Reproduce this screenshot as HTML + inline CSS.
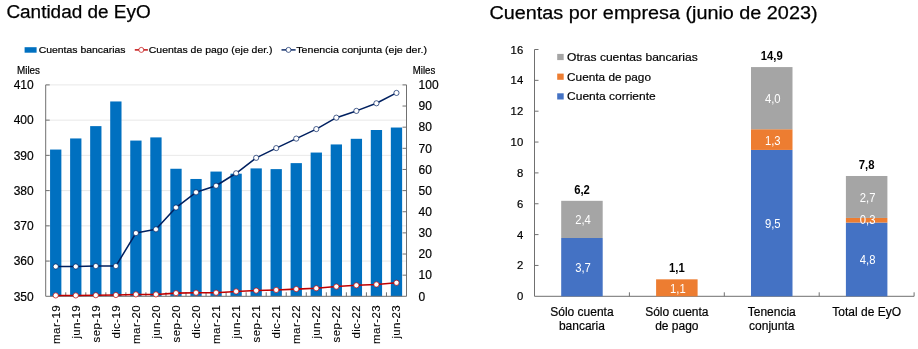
<!DOCTYPE html>
<html><head><meta charset="utf-8"><style>
html,body{margin:0;padding:0;background:#fff;}
svg{display:block;font-family:"Liberation Sans", sans-serif;will-change:transform;}
</style></head><body>
<svg width="918" height="349" viewBox="0 0 918 349">
<text x="6.40" y="18.40" font-size="18.8" text-anchor="start" fill="#000" textLength="144.3" lengthAdjust="spacingAndGlyphs" stroke="#000" stroke-width="0.25">Cantidad de EyO</text>
<line x1="45.7" y1="261.07" x2="406.5" y2="261.07" stroke="#e0e0e0" stroke-width="0.75"/>
<line x1="45.7" y1="225.83" x2="406.5" y2="225.83" stroke="#e0e0e0" stroke-width="0.75"/>
<line x1="45.7" y1="190.60" x2="406.5" y2="190.60" stroke="#e0e0e0" stroke-width="0.75"/>
<line x1="45.7" y1="155.37" x2="406.5" y2="155.37" stroke="#e0e0e0" stroke-width="0.75"/>
<line x1="45.7" y1="120.13" x2="406.5" y2="120.13" stroke="#e0e0e0" stroke-width="0.75"/>
<line x1="45.7" y1="84.90" x2="406.5" y2="84.90" stroke="#e0e0e0" stroke-width="0.75"/>
<rect x="50.07" y="149.55" width="11.3" height="146.75" fill="#0070c0"/>
<rect x="70.12" y="138.45" width="11.3" height="157.85" fill="#0070c0"/>
<rect x="90.16" y="126.12" width="11.3" height="170.18" fill="#0070c0"/>
<rect x="110.21" y="101.46" width="11.3" height="194.84" fill="#0070c0"/>
<rect x="130.25" y="140.57" width="11.3" height="155.73" fill="#0070c0"/>
<rect x="150.29" y="137.40" width="11.3" height="158.90" fill="#0070c0"/>
<rect x="170.34" y="168.76" width="11.3" height="127.54" fill="#0070c0"/>
<rect x="190.38" y="178.97" width="11.3" height="117.33" fill="#0070c0"/>
<rect x="210.43" y="171.57" width="11.3" height="124.73" fill="#0070c0"/>
<rect x="230.47" y="173.69" width="11.3" height="122.61" fill="#0070c0"/>
<rect x="250.52" y="168.40" width="11.3" height="127.90" fill="#0070c0"/>
<rect x="270.56" y="169.11" width="11.3" height="127.19" fill="#0070c0"/>
<rect x="290.61" y="163.12" width="11.3" height="133.18" fill="#0070c0"/>
<rect x="310.65" y="152.55" width="11.3" height="143.75" fill="#0070c0"/>
<rect x="330.69" y="144.44" width="11.3" height="151.86" fill="#0070c0"/>
<rect x="350.74" y="138.81" width="11.3" height="157.49" fill="#0070c0"/>
<rect x="370.78" y="130.00" width="11.3" height="166.30" fill="#0070c0"/>
<rect x="390.83" y="127.53" width="11.3" height="168.77" fill="#0070c0"/>
<path d="M49.7,84.9 H45.7 V296.3 H406.5 V84.9 H402.5" fill="none" stroke="#707070" stroke-width="1"/>
<line x1="45.7" y1="261.07" x2="49.7" y2="261.07" stroke="#707070" stroke-width="1"/>
<line x1="45.7" y1="225.83" x2="49.7" y2="225.83" stroke="#707070" stroke-width="1"/>
<line x1="45.7" y1="190.60" x2="49.7" y2="190.60" stroke="#707070" stroke-width="1"/>
<line x1="45.7" y1="155.37" x2="49.7" y2="155.37" stroke="#707070" stroke-width="1"/>
<line x1="45.7" y1="120.13" x2="49.7" y2="120.13" stroke="#707070" stroke-width="1"/>
<line x1="402.5" y1="275.16" x2="406.5" y2="275.16" stroke="#707070" stroke-width="1"/>
<line x1="402.5" y1="254.02" x2="406.5" y2="254.02" stroke="#707070" stroke-width="1"/>
<line x1="402.5" y1="232.88" x2="406.5" y2="232.88" stroke="#707070" stroke-width="1"/>
<line x1="402.5" y1="211.74" x2="406.5" y2="211.74" stroke="#707070" stroke-width="1"/>
<line x1="402.5" y1="190.60" x2="406.5" y2="190.60" stroke="#707070" stroke-width="1"/>
<line x1="402.5" y1="169.46" x2="406.5" y2="169.46" stroke="#707070" stroke-width="1"/>
<line x1="402.5" y1="148.32" x2="406.5" y2="148.32" stroke="#707070" stroke-width="1"/>
<line x1="402.5" y1="127.18" x2="406.5" y2="127.18" stroke="#707070" stroke-width="1"/>
<line x1="402.5" y1="106.04" x2="406.5" y2="106.04" stroke="#707070" stroke-width="1"/>
<line x1="65.74" y1="296.3" x2="65.74" y2="292.3" stroke="#707070" stroke-width="1"/>
<line x1="85.79" y1="296.3" x2="85.79" y2="292.3" stroke="#707070" stroke-width="1"/>
<line x1="105.83" y1="296.3" x2="105.83" y2="292.3" stroke="#707070" stroke-width="1"/>
<line x1="125.88" y1="296.3" x2="125.88" y2="292.3" stroke="#707070" stroke-width="1"/>
<line x1="145.92" y1="296.3" x2="145.92" y2="292.3" stroke="#707070" stroke-width="1"/>
<line x1="165.97" y1="296.3" x2="165.97" y2="292.3" stroke="#707070" stroke-width="1"/>
<line x1="186.01" y1="296.3" x2="186.01" y2="292.3" stroke="#707070" stroke-width="1"/>
<line x1="206.06" y1="296.3" x2="206.06" y2="292.3" stroke="#707070" stroke-width="1"/>
<line x1="226.10" y1="296.3" x2="226.10" y2="292.3" stroke="#707070" stroke-width="1"/>
<line x1="246.14" y1="296.3" x2="246.14" y2="292.3" stroke="#707070" stroke-width="1"/>
<line x1="266.19" y1="296.3" x2="266.19" y2="292.3" stroke="#707070" stroke-width="1"/>
<line x1="286.23" y1="296.3" x2="286.23" y2="292.3" stroke="#707070" stroke-width="1"/>
<line x1="306.28" y1="296.3" x2="306.28" y2="292.3" stroke="#707070" stroke-width="1"/>
<line x1="326.32" y1="296.3" x2="326.32" y2="292.3" stroke="#707070" stroke-width="1"/>
<line x1="346.37" y1="296.3" x2="346.37" y2="292.3" stroke="#707070" stroke-width="1"/>
<line x1="366.41" y1="296.3" x2="366.41" y2="292.3" stroke="#707070" stroke-width="1"/>
<line x1="386.46" y1="296.3" x2="386.46" y2="292.3" stroke="#707070" stroke-width="1"/>
<polyline points="55.72,295.45 75.77,295.45 95.81,295.24 115.86,295.03 135.90,294.40 155.94,294.40 175.99,293.13 196.03,292.71 216.08,292.71 236.12,291.44 256.17,290.59 276.21,289.96 296.26,289.11 316.30,288.27 336.34,286.58 356.39,285.31 376.43,284.46 396.48,282.77" fill="none" stroke="#c00000" stroke-width="1.55" stroke-linejoin="round"/>
<circle cx="55.72" cy="295.45" r="2.6" fill="#fff" stroke="#c00000" stroke-width="0.7"/>
<circle cx="75.77" cy="295.45" r="2.6" fill="#fff" stroke="#c00000" stroke-width="0.7"/>
<circle cx="95.81" cy="295.24" r="2.6" fill="#fff" stroke="#c00000" stroke-width="0.7"/>
<circle cx="115.86" cy="295.03" r="2.6" fill="#fff" stroke="#c00000" stroke-width="0.7"/>
<circle cx="135.90" cy="294.40" r="2.6" fill="#fff" stroke="#c00000" stroke-width="0.7"/>
<circle cx="155.94" cy="294.40" r="2.6" fill="#fff" stroke="#c00000" stroke-width="0.7"/>
<circle cx="175.99" cy="293.13" r="2.6" fill="#fff" stroke="#c00000" stroke-width="0.7"/>
<circle cx="196.03" cy="292.71" r="2.6" fill="#fff" stroke="#c00000" stroke-width="0.7"/>
<circle cx="216.08" cy="292.71" r="2.6" fill="#fff" stroke="#c00000" stroke-width="0.7"/>
<circle cx="236.12" cy="291.44" r="2.6" fill="#fff" stroke="#c00000" stroke-width="0.7"/>
<circle cx="256.17" cy="290.59" r="2.6" fill="#fff" stroke="#c00000" stroke-width="0.7"/>
<circle cx="276.21" cy="289.96" r="2.6" fill="#fff" stroke="#c00000" stroke-width="0.7"/>
<circle cx="296.26" cy="289.11" r="2.6" fill="#fff" stroke="#c00000" stroke-width="0.7"/>
<circle cx="316.30" cy="288.27" r="2.6" fill="#fff" stroke="#c00000" stroke-width="0.7"/>
<circle cx="336.34" cy="286.58" r="2.6" fill="#fff" stroke="#c00000" stroke-width="0.7"/>
<circle cx="356.39" cy="285.31" r="2.6" fill="#fff" stroke="#c00000" stroke-width="0.7"/>
<circle cx="376.43" cy="284.46" r="2.6" fill="#fff" stroke="#c00000" stroke-width="0.7"/>
<circle cx="396.48" cy="282.77" r="2.6" fill="#fff" stroke="#c00000" stroke-width="0.7"/>
<polyline points="55.72,266.49 75.77,266.49 95.81,266.07 115.86,266.07 135.90,233.09 155.94,229.29 175.99,207.51 196.03,192.29 216.08,185.74 236.12,173.27 256.17,157.83 276.21,148.11 296.26,138.60 316.30,129.08 336.34,117.67 356.39,110.90 376.43,103.29 396.48,92.93" fill="none" stroke="#002060" stroke-width="1.55" stroke-linejoin="round"/>
<circle cx="55.72" cy="266.49" r="2.6" fill="#fff" stroke="#002060" stroke-width="0.7"/>
<circle cx="75.77" cy="266.49" r="2.6" fill="#fff" stroke="#002060" stroke-width="0.7"/>
<circle cx="95.81" cy="266.07" r="2.6" fill="#fff" stroke="#002060" stroke-width="0.7"/>
<circle cx="115.86" cy="266.07" r="2.6" fill="#fff" stroke="#002060" stroke-width="0.7"/>
<circle cx="135.90" cy="233.09" r="2.6" fill="#fff" stroke="#002060" stroke-width="0.7"/>
<circle cx="155.94" cy="229.29" r="2.6" fill="#fff" stroke="#002060" stroke-width="0.7"/>
<circle cx="175.99" cy="207.51" r="2.6" fill="#fff" stroke="#002060" stroke-width="0.7"/>
<circle cx="196.03" cy="192.29" r="2.6" fill="#fff" stroke="#002060" stroke-width="0.7"/>
<circle cx="216.08" cy="185.74" r="2.6" fill="#fff" stroke="#002060" stroke-width="0.7"/>
<circle cx="236.12" cy="173.27" r="2.6" fill="#fff" stroke="#002060" stroke-width="0.7"/>
<circle cx="256.17" cy="157.83" r="2.6" fill="#fff" stroke="#002060" stroke-width="0.7"/>
<circle cx="276.21" cy="148.11" r="2.6" fill="#fff" stroke="#002060" stroke-width="0.7"/>
<circle cx="296.26" cy="138.60" r="2.6" fill="#fff" stroke="#002060" stroke-width="0.7"/>
<circle cx="316.30" cy="129.08" r="2.6" fill="#fff" stroke="#002060" stroke-width="0.7"/>
<circle cx="336.34" cy="117.67" r="2.6" fill="#fff" stroke="#002060" stroke-width="0.7"/>
<circle cx="356.39" cy="110.90" r="2.6" fill="#fff" stroke="#002060" stroke-width="0.7"/>
<circle cx="376.43" cy="103.29" r="2.6" fill="#fff" stroke="#002060" stroke-width="0.7"/>
<circle cx="396.48" cy="92.93" r="2.6" fill="#fff" stroke="#002060" stroke-width="0.7"/>
<text x="33.70" y="300.50" font-size="12" text-anchor="end" fill="#000" stroke="#000" stroke-width="0.2">350</text>
<text x="33.70" y="265.27" font-size="12" text-anchor="end" fill="#000" stroke="#000" stroke-width="0.2">360</text>
<text x="33.70" y="230.03" font-size="12" text-anchor="end" fill="#000" stroke="#000" stroke-width="0.2">370</text>
<text x="33.70" y="194.80" font-size="12" text-anchor="end" fill="#000" stroke="#000" stroke-width="0.2">380</text>
<text x="33.70" y="159.57" font-size="12" text-anchor="end" fill="#000" stroke="#000" stroke-width="0.2">390</text>
<text x="33.70" y="124.33" font-size="12" text-anchor="end" fill="#000" stroke="#000" stroke-width="0.2">400</text>
<text x="33.70" y="89.10" font-size="12" text-anchor="end" fill="#000" stroke="#000" stroke-width="0.2">410</text>
<text x="418.60" y="300.50" font-size="12" text-anchor="start" fill="#000" stroke="#000" stroke-width="0.2">0</text>
<text x="418.60" y="279.36" font-size="12" text-anchor="start" fill="#000" stroke="#000" stroke-width="0.2">10</text>
<text x="418.60" y="258.22" font-size="12" text-anchor="start" fill="#000" stroke="#000" stroke-width="0.2">20</text>
<text x="418.60" y="237.08" font-size="12" text-anchor="start" fill="#000" stroke="#000" stroke-width="0.2">30</text>
<text x="418.60" y="215.94" font-size="12" text-anchor="start" fill="#000" stroke="#000" stroke-width="0.2">40</text>
<text x="418.60" y="194.80" font-size="12" text-anchor="start" fill="#000" stroke="#000" stroke-width="0.2">50</text>
<text x="418.60" y="173.66" font-size="12" text-anchor="start" fill="#000" stroke="#000" stroke-width="0.2">60</text>
<text x="418.60" y="152.52" font-size="12" text-anchor="start" fill="#000" stroke="#000" stroke-width="0.2">70</text>
<text x="418.60" y="131.38" font-size="12" text-anchor="start" fill="#000" stroke="#000" stroke-width="0.2">80</text>
<text x="418.60" y="110.24" font-size="12" text-anchor="start" fill="#000" stroke="#000" stroke-width="0.2">90</text>
<text x="418.60" y="89.10" font-size="12" text-anchor="start" fill="#000" stroke="#000" stroke-width="0.2">100</text>
<text x="17.00" y="73.90" font-size="10.0" text-anchor="start" fill="#000" textLength="23" lengthAdjust="spacingAndGlyphs" stroke="#000" stroke-width="0.2">Miles</text>
<text x="412.80" y="73.90" font-size="10.0" text-anchor="start" fill="#000" textLength="22.5" lengthAdjust="spacingAndGlyphs" stroke="#000" stroke-width="0.2">Miles</text>
<rect x="24.6" y="47.2" width="12" height="5.5" fill="#0070c0"/>
<text x="38.70" y="52.80" font-size="9.9" text-anchor="start" fill="#000" textLength="86.9" lengthAdjust="spacingAndGlyphs" stroke="#000" stroke-width="0.2">Cuentas bancarias</text>
<line x1="134.8" y1="49.9" x2="147.9" y2="49.9" stroke="#c00000" stroke-width="1.4"/>
<circle cx="141.3" cy="49.9" r="2.5" fill="#fff" stroke="#c00000" stroke-width="0.7"/>
<text x="148.80" y="52.80" font-size="9.9" text-anchor="start" fill="#000" textLength="123.7" lengthAdjust="spacingAndGlyphs" stroke="#000" stroke-width="0.2">Cuentas de pago (eje der.)</text>
<line x1="281.5" y1="49.9" x2="295.6" y2="49.9" stroke="#002060" stroke-width="1.4"/>
<circle cx="288.5" cy="49.9" r="2.5" fill="#fff" stroke="#002060" stroke-width="0.7"/>
<text x="296.30" y="52.80" font-size="9.9" text-anchor="start" fill="#000" textLength="130.7" lengthAdjust="spacingAndGlyphs" stroke="#000" stroke-width="0.2">Tenencia conjunta (eje der.)</text>
<text transform="translate(59.62,305.4) rotate(-90)" font-size="11.5" text-anchor="end" fill="#000" stroke="#000" stroke-width="0.1" textLength="38.5" lengthAdjust="spacing">mar-19</text>
<text transform="translate(79.67,305.4) rotate(-90)" font-size="11.5" text-anchor="end" fill="#000" stroke="#000" stroke-width="0.1" textLength="33.0" lengthAdjust="spacing">jun-19</text>
<text transform="translate(99.71,305.4) rotate(-90)" font-size="11.5" text-anchor="end" fill="#000" stroke="#000" stroke-width="0.1" textLength="37.0" lengthAdjust="spacing">sep-19</text>
<text transform="translate(119.76,305.4) rotate(-90)" font-size="11.5" text-anchor="end" fill="#000" stroke="#000" stroke-width="0.1" textLength="33.2" lengthAdjust="spacing">dic-19</text>
<text transform="translate(139.80,305.4) rotate(-90)" font-size="11.5" text-anchor="end" fill="#000" stroke="#000" stroke-width="0.1" textLength="38.5" lengthAdjust="spacing">mar-20</text>
<text transform="translate(159.84,305.4) rotate(-90)" font-size="11.5" text-anchor="end" fill="#000" stroke="#000" stroke-width="0.1" textLength="33.0" lengthAdjust="spacing">jun-20</text>
<text transform="translate(179.89,305.4) rotate(-90)" font-size="11.5" text-anchor="end" fill="#000" stroke="#000" stroke-width="0.1" textLength="37.0" lengthAdjust="spacing">sep-20</text>
<text transform="translate(199.93,305.4) rotate(-90)" font-size="11.5" text-anchor="end" fill="#000" stroke="#000" stroke-width="0.1" textLength="33.2" lengthAdjust="spacing">dic-20</text>
<text transform="translate(219.98,305.4) rotate(-90)" font-size="11.5" text-anchor="end" fill="#000" stroke="#000" stroke-width="0.1" textLength="38.5" lengthAdjust="spacing">mar-21</text>
<text transform="translate(240.02,305.4) rotate(-90)" font-size="11.5" text-anchor="end" fill="#000" stroke="#000" stroke-width="0.1" textLength="33.0" lengthAdjust="spacing">jun-21</text>
<text transform="translate(260.07,305.4) rotate(-90)" font-size="11.5" text-anchor="end" fill="#000" stroke="#000" stroke-width="0.1" textLength="37.0" lengthAdjust="spacing">sep-21</text>
<text transform="translate(280.11,305.4) rotate(-90)" font-size="11.5" text-anchor="end" fill="#000" stroke="#000" stroke-width="0.1" textLength="33.2" lengthAdjust="spacing">dic-21</text>
<text transform="translate(300.16,305.4) rotate(-90)" font-size="11.5" text-anchor="end" fill="#000" stroke="#000" stroke-width="0.1" textLength="38.5" lengthAdjust="spacing">mar-22</text>
<text transform="translate(320.20,305.4) rotate(-90)" font-size="11.5" text-anchor="end" fill="#000" stroke="#000" stroke-width="0.1" textLength="33.0" lengthAdjust="spacing">jun-22</text>
<text transform="translate(340.24,305.4) rotate(-90)" font-size="11.5" text-anchor="end" fill="#000" stroke="#000" stroke-width="0.1" textLength="37.0" lengthAdjust="spacing">sep-22</text>
<text transform="translate(360.29,305.4) rotate(-90)" font-size="11.5" text-anchor="end" fill="#000" stroke="#000" stroke-width="0.1" textLength="33.2" lengthAdjust="spacing">dic-22</text>
<text transform="translate(380.33,305.4) rotate(-90)" font-size="11.5" text-anchor="end" fill="#000" stroke="#000" stroke-width="0.1" textLength="38.5" lengthAdjust="spacing">mar-23</text>
<text transform="translate(400.38,305.4) rotate(-90)" font-size="11.5" text-anchor="end" fill="#000" stroke="#000" stroke-width="0.1" textLength="33.0" lengthAdjust="spacing">jun-23</text>
<text x="489.50" y="18.60" font-size="18.8" text-anchor="start" fill="#000" textLength="328.0" lengthAdjust="spacingAndGlyphs" stroke="#000" stroke-width="0.25">Cuentas por empresa (junio de 2023)</text>
<path d="M538.5,49.5 H534.5 V296.3 H914.1 V292.3" fill="none" stroke="#707070" stroke-width="1"/>
<line x1="534.5" y1="265.45" x2="538.5" y2="265.45" stroke="#707070" stroke-width="1"/>
<line x1="534.5" y1="234.60" x2="538.5" y2="234.60" stroke="#707070" stroke-width="1"/>
<line x1="534.5" y1="203.75" x2="538.5" y2="203.75" stroke="#707070" stroke-width="1"/>
<line x1="534.5" y1="172.90" x2="538.5" y2="172.90" stroke="#707070" stroke-width="1"/>
<line x1="534.5" y1="142.05" x2="538.5" y2="142.05" stroke="#707070" stroke-width="1"/>
<line x1="534.5" y1="111.20" x2="538.5" y2="111.20" stroke="#707070" stroke-width="1"/>
<line x1="534.5" y1="80.35" x2="538.5" y2="80.35" stroke="#707070" stroke-width="1"/>
<line x1="629.40" y1="296.3" x2="629.40" y2="292.3" stroke="#707070" stroke-width="1"/>
<line x1="724.30" y1="296.3" x2="724.30" y2="292.3" stroke="#707070" stroke-width="1"/>
<line x1="819.20" y1="296.3" x2="819.20" y2="292.3" stroke="#707070" stroke-width="1"/>
<text x="523.20" y="300.30" font-size="11.3" text-anchor="end" fill="#000" stroke="#000" stroke-width="0.2">0</text>
<text x="523.20" y="269.45" font-size="11.3" text-anchor="end" fill="#000" stroke="#000" stroke-width="0.2">2</text>
<text x="523.20" y="238.60" font-size="11.3" text-anchor="end" fill="#000" stroke="#000" stroke-width="0.2">4</text>
<text x="523.20" y="207.75" font-size="11.3" text-anchor="end" fill="#000" stroke="#000" stroke-width="0.2">6</text>
<text x="523.20" y="176.90" font-size="11.3" text-anchor="end" fill="#000" stroke="#000" stroke-width="0.2">8</text>
<text x="523.20" y="146.05" font-size="11.3" text-anchor="end" fill="#000" stroke="#000" stroke-width="0.2">10</text>
<text x="523.20" y="115.20" font-size="11.3" text-anchor="end" fill="#000" stroke="#000" stroke-width="0.2">12</text>
<text x="523.20" y="84.35" font-size="11.3" text-anchor="end" fill="#000" stroke="#000" stroke-width="0.2">14</text>
<text x="523.20" y="53.50" font-size="11.3" text-anchor="end" fill="#000" stroke="#000" stroke-width="0.2">16</text>
<rect x="561.20" y="237.99" width="41.5" height="58.31" fill="#4472c4"/>
<rect x="561.20" y="200.82" width="41.5" height="37.17" fill="#a5a5a5"/>
<text transform="translate(581.95,193.92) scale(0.94,1)" font-size="12" text-anchor="middle" fill="#000" font-weight="bold">6,2</text>
<rect x="656.10" y="279.33" width="41.5" height="16.97" fill="#ed7d31"/>
<text transform="translate(676.85,272.43) scale(0.94,1)" font-size="12" text-anchor="middle" fill="#000" font-weight="bold">1,1</text>
<rect x="751.00" y="149.92" width="41.5" height="146.38" fill="#4472c4"/>
<rect x="751.00" y="129.25" width="41.5" height="20.67" fill="#ed7d31"/>
<rect x="751.00" y="67.08" width="41.5" height="62.16" fill="#a5a5a5"/>
<text transform="translate(771.75,60.18) scale(0.94,1)" font-size="12" text-anchor="middle" fill="#000" font-weight="bold">14,9</text>
<rect x="845.90" y="222.57" width="41.5" height="73.73" fill="#4472c4"/>
<rect x="845.90" y="217.94" width="41.5" height="4.63" fill="#ed7d31"/>
<rect x="845.90" y="175.99" width="41.5" height="41.96" fill="#a5a5a5"/>
<text transform="translate(866.65,169.09) scale(0.94,1)" font-size="12" text-anchor="middle" fill="#000" font-weight="bold">7,8</text>
<text transform="translate(582.95,272.15) scale(0.94,1)" font-size="12" text-anchor="middle" fill="#fff">3,7</text>
<text transform="translate(582.95,224.41) scale(0.94,1)" font-size="12" text-anchor="middle" fill="#fff">2,4</text>
<text transform="translate(677.85,292.82) scale(0.94,1)" font-size="12" text-anchor="middle" fill="#fff">1,1</text>
<text transform="translate(772.75,228.11) scale(0.94,1)" font-size="12" text-anchor="middle" fill="#fff">9,5</text>
<text transform="translate(772.75,144.58) scale(0.94,1)" font-size="12" text-anchor="middle" fill="#fff">1,3</text>
<text transform="translate(772.75,103.17) scale(0.94,1)" font-size="12" text-anchor="middle" fill="#fff">4,0</text>
<text transform="translate(867.65,264.43) scale(0.94,1)" font-size="12" text-anchor="middle" fill="#fff">4,8</text>
<text transform="translate(867.65,224.25) scale(0.94,1)" font-size="12" text-anchor="middle" fill="#fff">0,3</text>
<text transform="translate(867.65,201.96) scale(0.94,1)" font-size="12" text-anchor="middle" fill="#fff">2,7</text>
<rect x="557.2" y="53.90" width="6.5" height="6.2" fill="#a5a5a5"/>
<text x="567.10" y="61.00" font-size="11.8" text-anchor="start" fill="#000" textLength="130.6" lengthAdjust="spacingAndGlyphs" stroke="#000" stroke-width="0.2">Otras cuentas bancarias</text>
<rect x="557.2" y="73.60" width="6.5" height="6.2" fill="#ed7d31"/>
<text x="567.10" y="80.70" font-size="11.8" text-anchor="start" fill="#000" textLength="83.9" lengthAdjust="spacingAndGlyphs" stroke="#000" stroke-width="0.2">Cuenta de pago</text>
<rect x="557.2" y="93.30" width="6.5" height="6.2" fill="#4472c4"/>
<text x="567.10" y="100.40" font-size="11.8" text-anchor="start" fill="#000" textLength="88.6" lengthAdjust="spacingAndGlyphs" stroke="#000" stroke-width="0.2">Cuenta corriente</text>
<text x="581.95" y="315.50" font-size="12" text-anchor="middle" fill="#000" stroke="#000" stroke-width="0.2">Sólo cuenta</text>
<text x="581.95" y="330.00" font-size="12" text-anchor="middle" fill="#000" stroke="#000" stroke-width="0.2">bancaria</text>
<text x="676.85" y="315.50" font-size="12" text-anchor="middle" fill="#000" stroke="#000" stroke-width="0.2">Sólo cuenta</text>
<text x="676.85" y="330.00" font-size="12" text-anchor="middle" fill="#000" stroke="#000" stroke-width="0.2">de pago</text>
<text x="771.75" y="315.50" font-size="12" text-anchor="middle" fill="#000" stroke="#000" stroke-width="0.2">Tenencia</text>
<text x="771.75" y="330.00" font-size="12" text-anchor="middle" fill="#000" stroke="#000" stroke-width="0.2">conjunta</text>
<text x="866.65" y="315.50" font-size="12" text-anchor="middle" fill="#000" stroke="#000" stroke-width="0.2">Total de EyO</text>
</svg>
</body></html>
